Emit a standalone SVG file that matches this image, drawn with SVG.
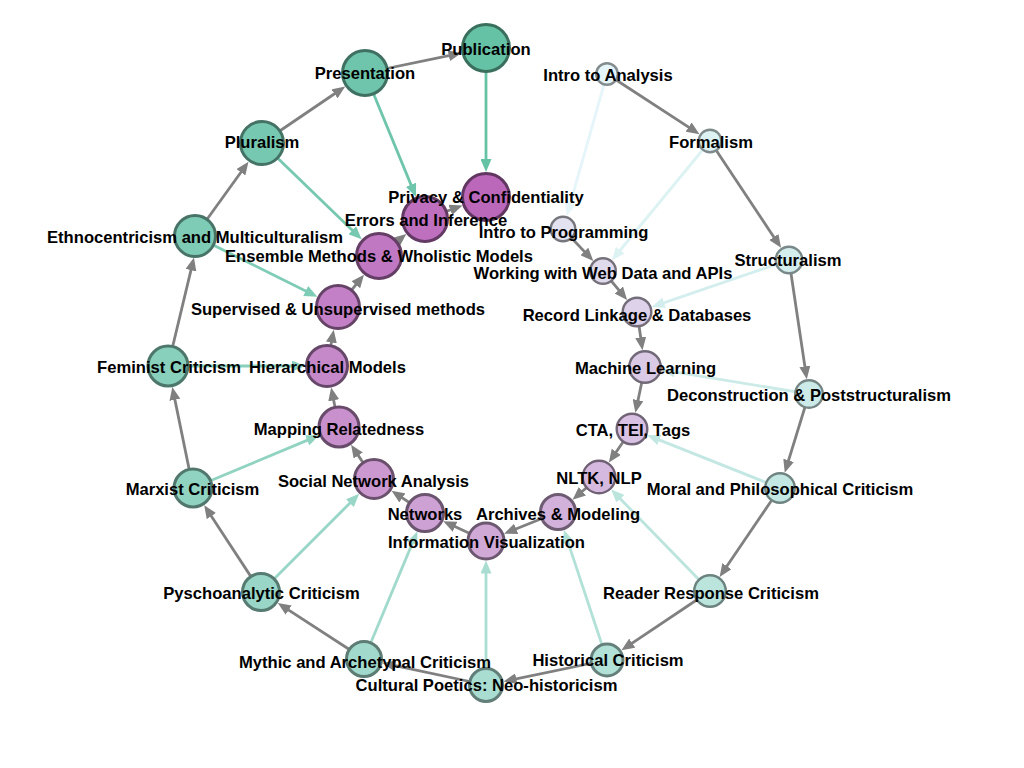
<svg xmlns="http://www.w3.org/2000/svg" width="1024" height="768" viewBox="0 0 1024 768">
<style>
.e{stroke-width:2.8;fill:none}
.g{stroke:#808080}
.n{stroke-width:3}
.s{stroke-width:2.4}
text{font-family:"Liberation Sans",Arial,sans-serif;font-weight:bold;font-size:16.6px;fill:#000;text-anchor:middle;dominant-baseline:central}
</style>
<defs>
<marker id="mg" markerUnits="userSpaceOnUse" markerWidth="13" markerHeight="11" refX="5" refY="5.5" orient="auto"><path d="M0,0 L13,5.5 L0,11 z" fill="#808080"/></marker>
<marker id="m16" markerUnits="userSpaceOnUse" markerWidth="13" markerHeight="11" refX="5" refY="5.5" orient="auto"><path d="M0,0 L13,5.5 L0,11 z" fill="#66c2a5"/></marker>
<marker id="m15" markerUnits="userSpaceOnUse" markerWidth="13" markerHeight="11" refX="5" refY="5.5" orient="auto"><path d="M0,0 L13,5.5 L0,11 z" fill="#6ec5ab"/></marker>
<marker id="m14" markerUnits="userSpaceOnUse" markerWidth="13" markerHeight="11" refX="5" refY="5.5" orient="auto"><path d="M0,0 L13,5.5 L0,11 z" fill="#77c8b0"/></marker>
<marker id="m13" markerUnits="userSpaceOnUse" markerWidth="13" markerHeight="11" refX="5" refY="5.5" orient="auto"><path d="M0,0 L13,5.5 L0,11 z" fill="#7fccb6"/></marker>
<marker id="m12" markerUnits="userSpaceOnUse" markerWidth="13" markerHeight="11" refX="5" refY="5.5" orient="auto"><path d="M0,0 L13,5.5 L0,11 z" fill="#88d0bb"/></marker>
<marker id="m11" markerUnits="userSpaceOnUse" markerWidth="13" markerHeight="11" refX="5" refY="5.5" orient="auto"><path d="M0,0 L13,5.5 L0,11 z" fill="#90d3c1"/></marker>
<marker id="m10" markerUnits="userSpaceOnUse" markerWidth="13" markerHeight="11" refX="5" refY="5.5" orient="auto"><path d="M0,0 L13,5.5 L0,11 z" fill="#99d6c7"/></marker>
<marker id="m9" markerUnits="userSpaceOnUse" markerWidth="13" markerHeight="11" refX="5" refY="5.5" orient="auto"><path d="M0,0 L13,5.5 L0,11 z" fill="#a1dacc"/></marker>
<marker id="m8" markerUnits="userSpaceOnUse" markerWidth="13" markerHeight="11" refX="5" refY="5.5" orient="auto"><path d="M0,0 L13,5.5 L0,11 z" fill="#aaddd2"/></marker>
<marker id="m7" markerUnits="userSpaceOnUse" markerWidth="13" markerHeight="11" refX="5" refY="5.5" orient="auto"><path d="M0,0 L13,5.5 L0,11 z" fill="#b2e1d7"/></marker>
<marker id="m6" markerUnits="userSpaceOnUse" markerWidth="13" markerHeight="11" refX="5" refY="5.5" orient="auto"><path d="M0,0 L13,5.5 L0,11 z" fill="#bbe4dd"/></marker>
<marker id="m5" markerUnits="userSpaceOnUse" markerWidth="13" markerHeight="11" refX="5" refY="5.5" orient="auto"><path d="M0,0 L13,5.5 L0,11 z" fill="#c3e7e3"/></marker>
<marker id="m4" markerUnits="userSpaceOnUse" markerWidth="13" markerHeight="11" refX="5" refY="5.5" orient="auto"><path d="M0,0 L13,5.5 L0,11 z" fill="#ccebe8"/></marker>
<marker id="m3" markerUnits="userSpaceOnUse" markerWidth="13" markerHeight="11" refX="5" refY="5.5" orient="auto"><path d="M0,0 L13,5.5 L0,11 z" fill="#d4eeee"/></marker>
<marker id="m2" markerUnits="userSpaceOnUse" markerWidth="13" markerHeight="11" refX="5" refY="5.5" orient="auto"><path d="M0,0 L13,5.5 L0,11 z" fill="#ddf2f3"/></marker>
<marker id="m1" markerUnits="userSpaceOnUse" markerWidth="13" markerHeight="11" refX="5" refY="5.5" orient="auto"><path d="M0,0 L13,5.5 L0,11 z" fill="#e5f5f9"/></marker>
</defs>
<rect width="1024" height="768" fill="#fff"/>
<g id="connectors">
<line class="e g" x1="607" y1="74" x2="692.8" y2="129.8" marker-end="url(#mg)"/>
<line class="e g" x1="710" y1="141" x2="776.6" y2="241.2" marker-end="url(#mg)"/>
<line class="e g" x1="789" y1="260" x2="805.6" y2="371.3" marker-end="url(#mg)"/>
<line class="e g" x1="809" y1="394" x2="787.1" y2="465.1" marker-end="url(#mg)"/>
<line class="e g" x1="780" y1="488" x2="724.1" y2="570.3" marker-end="url(#mg)"/>
<line class="e g" x1="710" y1="591" x2="628.1" y2="645.9" marker-end="url(#mg)"/>
<line class="e g" x1="607" y1="660" x2="511.4" y2="679.8" marker-end="url(#mg)"/>
<line class="e g" x1="486" y1="685" x2="390.4" y2="664.7" marker-end="url(#mg)"/>
<line class="e g" x1="364" y1="659" x2="284.5" y2="607.3" marker-end="url(#mg)"/>
<line class="e g" x1="261" y1="592" x2="208.6" y2="511.9" marker-end="url(#mg)"/>
<line class="e g" x1="193" y1="488" x2="173.9" y2="394.9" marker-end="url(#mg)"/>
<line class="e g" x1="168" y1="366" x2="192.1" y2="265.3" marker-end="url(#mg)"/>
<line class="e g" x1="195" y1="236" x2="243.8" y2="168.2" marker-end="url(#mg)"/>
<line class="e g" x1="262" y1="143" x2="338.6" y2="91" marker-end="url(#mg)"/>
<line class="e g" x1="365" y1="73" x2="453.7" y2="54.7" marker-end="url(#mg)"/>
<line class="e g" x1="563" y1="229" x2="587.8" y2="255.1" marker-end="url(#mg)"/>
<line class="e g" x1="603" y1="271" x2="622" y2="293.9" marker-end="url(#mg)"/>
<line class="e g" x1="637" y1="312" x2="641.4" y2="342.3" marker-end="url(#mg)"/>
<line class="e g" x1="645" y1="367" x2="637" y2="405" marker-end="url(#mg)"/>
<line class="e g" x1="632" y1="429" x2="613.4" y2="456" marker-end="url(#mg)"/>
<line class="e g" x1="599" y1="477" x2="578.6" y2="494.5" marker-end="url(#mg)"/>
<line class="e g" x1="558" y1="512" x2="511.5" y2="530.7" marker-end="url(#mg)"/>
<line class="e g" x1="486" y1="541" x2="450.5" y2="524.6" marker-end="url(#mg)"/>
<line class="e g" x1="425" y1="513" x2="398.2" y2="495.1" marker-end="url(#mg)"/>
<line class="e g" x1="374" y1="479" x2="355.5" y2="451.4" marker-end="url(#mg)"/>
<line class="e g" x1="339" y1="427" x2="332.7" y2="395.4" marker-end="url(#mg)"/>
<line class="e g" x1="327" y1="366" x2="332.3" y2="337.5" marker-end="url(#mg)"/>
<line class="e g" x1="338" y1="307" x2="359" y2="280.9" marker-end="url(#mg)"/>
<line class="e g" x1="379" y1="256" x2="400.1" y2="239" marker-end="url(#mg)"/>
<line class="e g" x1="425" y1="219" x2="455" y2="208.2" marker-end="url(#mg)"/>
<line class="e" stroke="#66c2a5" x1="486" y1="48" x2="486" y2="164" marker-end="url(#m16)"/>
<line class="e" stroke="#6ec5ab" x1="365" y1="73" x2="412.9" y2="189.4" marker-end="url(#m15)"/>
<line class="e" stroke="#77c8b0" x1="262" y1="143" x2="355.9" y2="233.7" marker-end="url(#m14)"/>
<line class="e" stroke="#7fccb6" x1="195" y1="236" x2="310.2" y2="293.2" marker-end="url(#m13)"/>
<line class="e" stroke="#88d0bb" x1="168" y1="366" x2="297" y2="366" marker-end="url(#m12)"/>
<line class="e" stroke="#90d3c1" x1="193" y1="488" x2="311.8" y2="438.4" marker-end="url(#m11)"/>
<line class="e" stroke="#99d6c7" x1="261" y1="592" x2="353.5" y2="499.5" marker-end="url(#m10)"/>
<line class="e" stroke="#a1dacc" x1="364" y1="659" x2="414.2" y2="538.9" marker-end="url(#m9)"/>
<line class="e" stroke="#aaddd2" x1="486" y1="685" x2="486" y2="568.5" marker-end="url(#m8)"/>
<line class="e" stroke="#b2e1d7" x1="607" y1="660" x2="566.5" y2="537.6" marker-end="url(#m7)"/>
<line class="e" stroke="#bbe4dd" x1="710" y1="591" x2="616.8" y2="495.2" marker-end="url(#m6)"/>
<line class="e" stroke="#c3e7e3" x1="780" y1="488" x2="654.7" y2="438.1" marker-end="url(#m5)"/>
<line class="e" stroke="#ccebe8" x1="809" y1="394" x2="669.7" y2="371.1" marker-end="url(#m4)"/>
<line class="e" stroke="#d4eeee" x1="789" y1="260" x2="659.3" y2="304.4" marker-end="url(#m3)"/>
<line class="e" stroke="#ddf2f3" x1="710" y1="141" x2="617" y2="254" marker-end="url(#m2)"/>
<line class="e" stroke="#e5f5f9" x1="607" y1="74" x2="568.9" y2="208.3" marker-end="url(#m1)"/>
</g>
<g id="nodes">
<g id="intro-to-analysis"><circle class="s" cx="607" cy="74" r="10.8" fill="#e5f5f9" stroke="#838c8e"/></g>
<g id="formalism"><circle class="s" cx="710" cy="141" r="11.3" fill="#ddf2f3" stroke="#7e8a8b"/></g>
<g id="structuralism"><circle class="s" cx="789" cy="260" r="13.3" fill="#d4eeee" stroke="#798888"/></g>
<g id="deconstruction"><circle class="s" cx="809" cy="394" r="13.8" fill="#ccebe8" stroke="#768684"/></g>
<g id="moral-philosophical"><circle class="s" cx="780" cy="488" r="14.8" fill="#c3e7e3" stroke="#6f8481"/></g>
<g id="reader-response"><circle class="s" cx="710" cy="591" r="15.8" fill="#bbe4dd" stroke="#6b827e"/></g>
<g id="historical"><circle class="n" cx="607" cy="660" r="16" fill="#b2e1d7" stroke="#65807b"/></g>
<g id="cultural-poetics"><circle class="n" cx="486" cy="685" r="16.5" fill="#aaddd2" stroke="#617e78"/></g>
<g id="mythic-archetypal"><circle class="n" cx="364" cy="659" r="17.5" fill="#a1dacc" stroke="#5c7c74"/></g>
<g id="pyschoanalytic"><circle class="n" cx="261" cy="592" r="18.5" fill="#99d6c7" stroke="#577a71"/></g>
<g id="marxist"><circle class="n" cx="193" cy="488" r="19" fill="#90d3c1" stroke="#52786e"/></g>
<g id="feminist"><circle class="n" cx="168" cy="366" r="20" fill="#88d0bb" stroke="#4e776b"/></g>
<g id="ethnocentricism"><circle class="n" cx="195" cy="236" r="20.5" fill="#7fccb6" stroke="#487468"/></g>
<g id="pluralism"><circle class="n" cx="262" cy="143" r="21.5" fill="#77c8b0" stroke="#447264"/></g>
<g id="presentation"><circle class="n" cx="365" cy="73" r="22.5" fill="#6ec5ab" stroke="#3f7061"/></g>
<g id="publication"><circle class="n" cx="486" cy="48" r="23.5" fill="#66c2a5" stroke="#3a6f5e"/></g>
<g id="intro-to-programming"><circle class="s" cx="563" cy="229" r="12.3" fill="#e2e2f0" stroke="#76767d"/></g>
<g id="web-data-apis"><circle class="s" cx="603" cy="271" r="12.8" fill="#dfdaec" stroke="#76717b"/></g>
<g id="record-linkage"><circle class="s" cx="637" cy="312" r="14.3" fill="#ddd2e9" stroke="#736d79"/></g>
<g id="machine-learning"><circle class="s" cx="645" cy="367" r="15.8" fill="#dacae5" stroke="#716977"/></g>
<g id="cta-tei-tags"><circle class="s" cx="632" cy="429" r="15.3" fill="#d8c1e2" stroke="#706476"/></g>
<g id="nltk-nlp"><circle class="s" cx="599" cy="477" r="16.3" fill="#d5b9de" stroke="#6f6073"/></g>
<g id="archives-modeling"><circle class="n" cx="558" cy="512" r="17.5" fill="#d2b1db" stroke="#6d5c72"/></g>
<g id="information-visualization"><circle class="n" cx="486" cy="541" r="18" fill="#d0a9d7" stroke="#6c5870"/></g>
<g id="networks"><circle class="n" cx="425" cy="513" r="18.5" fill="#cda1d4" stroke="#6b546e"/></g>
<g id="social-network-analysis"><circle class="n" cx="374" cy="479" r="19.5" fill="#cb99d0" stroke="#6a506c"/></g>
<g id="mapping-relatedness"><circle class="n" cx="339" cy="427" r="20" fill="#c891cd" stroke="#684b6b"/></g>
<g id="hierarchical-models"><circle class="n" cx="327" cy="366" r="20.5" fill="#c589c9" stroke="#664769"/></g>
<g id="supervised-unsupervised"><circle class="n" cx="338" cy="307" r="21.5" fill="#c380c6" stroke="#654367"/></g>
<g id="ensemble-methods"><circle class="n" cx="379" cy="256" r="22.5" fill="#c078c2" stroke="#643e65"/></g>
<g id="errors-inference"><circle class="n" cx="425" cy="219" r="22.5" fill="#be70bf" stroke="#633a63"/></g>
<g id="privacy-confidentiality"><circle class="n" cx="486" cy="197" r="23.5" fill="#bb68bb" stroke="#613661"/></g>
</g>
<g id="labels">
<text x="608" y="75">Intro to Analysis</text>
<text x="711" y="142">Formalism</text>
<text x="788" y="260">Structuralism</text>
<text x="809" y="395">Deconstruction &amp; Poststructuralism</text>
<text x="780" y="489">Moral and Philosophical Criticism</text>
<text x="711" y="593">Reader Response Criticism</text>
<text x="608" y="660">Historical Criticism</text>
<text x="486.5" y="685">Cultural Poetics: Neo-historicism</text>
<text x="365" y="662">Mythic and Archetypal Criticism</text>
<text x="261.5" y="593">Pyschoanalytic Criticism</text>
<text x="192.5" y="489">Marxist Criticism</text>
<text x="169" y="367">Feminist Criticism</text>
<text x="195" y="237">Ethnocentricism and Multiculturalism</text>
<text x="262" y="142">Pluralism</text>
<text x="365" y="73">Presentation</text>
<text x="486" y="49">Publication</text>
<text x="563.5" y="232">Intro to Programming</text>
<text x="603" y="273">Working with Web Data and APIs</text>
<text x="637" y="315">Record Linkage &amp; Databases</text>
<text x="645.5" y="368">Machine Learning</text>
<text x="633" y="430">CTA, TEI, Tags</text>
<text x="599" y="478">NLTK, NLP</text>
<text x="558" y="514">Archives &amp; Modeling</text>
<text x="486.5" y="542">Information Visualization</text>
<text x="425" y="514">Networks</text>
<text x="373.5" y="481">Social Network Analysis</text>
<text x="339" y="429">Mapping Relatedness</text>
<text x="327.5" y="367">Hierarchical Models</text>
<text x="338" y="309">Supervised &amp; Unsupervised methods</text>
<text x="379" y="256">Ensemble Methods &amp; Wholistic Models</text>
<text x="426" y="220">Errors and Inference</text>
<text x="486" y="197">Privacy &amp; Confidentiality</text>
</g>
</svg>
